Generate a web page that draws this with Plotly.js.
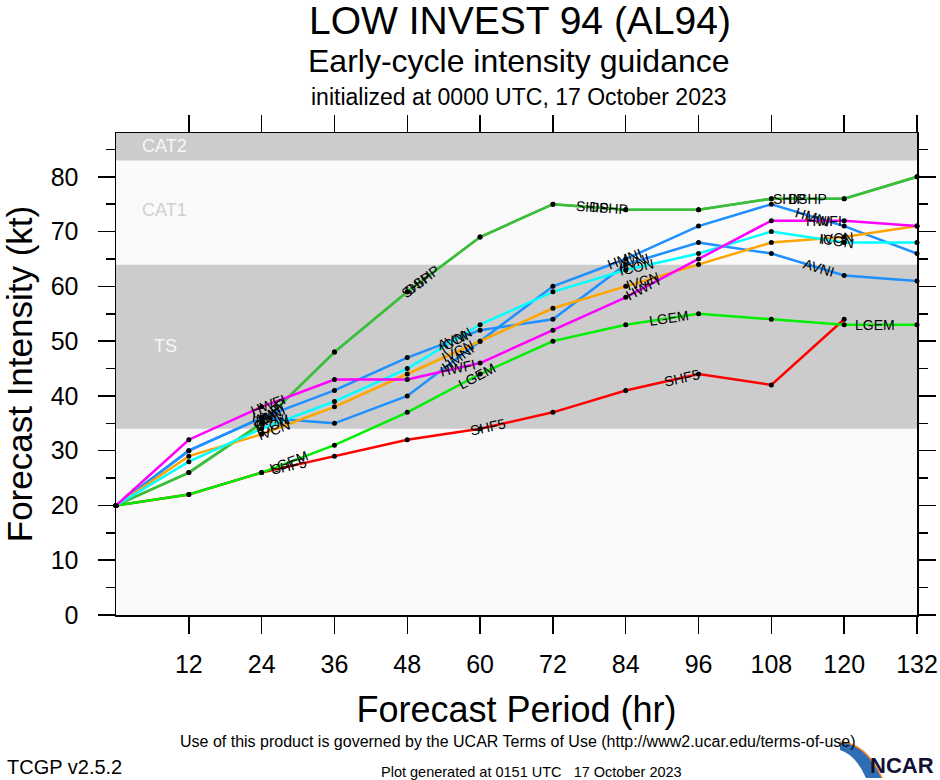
<!DOCTYPE html>
<html>
<head>
<meta charset="utf-8">
<script src="https://cdn.plot.ly/plotly-3.0.1.min.js"></script>
<style>html,body{margin:0;padding:0;background:#fff;}#chart{width:940px;height:780px;}</style>
</head>
<body>
<div id="chart"></div>
<script>
// ---------------- data ----------------
const hours = [0, 12, 24, 36, 48, 60, 72, 84, 96, 108, 120, 132];
const xTickVals = [12, 24, 36, 48, 60, 72, 84, 96, 108, 120, 132];

const DSHP = [20, 26, 35, 48, 59, 69, 75, 74, 74, 76, 76, 80];
const SHIP = [20, 26, 35, 48, 59, 69, 75, 74, 74, 76, 76, 80];
const SHF5 = [20, 22, 26, 29, 32, 34, 37, 41, 44, 42, 54, null];
const LGEM = [20, 22, 26, 31, 37, 44, 50, 53, 55, 54, 53, 53];
const HWFI = [20, 32, 38, 43, 43, 46, 52, 58, 65, 72, 72, 71];
const HMNI = [20, 30, 36, 35, 40, 50, 60, 65, 71, 75, 71, 66];
const AVNI = [20, 30, 36, 41, 47, 52, 54, 64, 68, 66, 62, 61];
const ICON = [20, 28, 34, 39, 45, 53, 59, 63, 66, 70, 68, 68];
const IVCN = [20, 29, 33, 38, 44, 50, 56, 60, 64, 68, 69, 71];

const models = ['DSHP', 'SHIP', 'SHF5', 'LGEM', 'AVNI', 'HMNI', 'IVCN', 'ICON', 'HWFI'];
const modelValues = {DSHP, SHIP, SHF5, LGEM, HWFI, HMNI, AVNI, ICON, IVCN};
const modelColors = {
  DSHP: '#3cbe3c', SHIP: '#3cbe3c', SHF5: '#ff0000', LGEM: '#00ee00',
  HWFI: '#ff00ff', HMNI: '#1e90ff', AVNI: '#1e90ff', ICON: '#00ffff', IVCN: '#ffa500'
};

// intensity category bands (kt)
const TS_BAND = [34, 64];
const CAT1_BAND = [64, 83];
const CAT2_BAND = [83, 96];

// where the line labels sit (forecast hour)
const labelHours = {
  SHIP: [25, 49.5, 78.6, 111],
  DSHP: [25.5, 50.5, 81.2, 114],
  SHF5: [28.5, 61.3, 93.2],
  LGEM: [28.5, 59.5, 91.2, 125],
  HWFI: [25, 56.3, 86.8, 116.7],
  HMNI: [25.3, 56.3, 83.8, 114.8],
  AVNI: [25.3, 55.6, 85.4, 115.9],
  ICON: [25.8, 55.9, 85.8, 118.8],
  IVCN: [26, 56.3, 86.8, 118.8]
};

// ---------------- geometry ----------------
const W = 940, H = 780;
const M = {l: 116, r: 23, t: 133, b: 165};
const plotW = W - M.l - M.r, plotH = H - M.t - M.b;
const X_RANGE = [0, 132], Y_RANGE = [0, 88];
const pxPerH = plotW / (X_RANGE[1] - X_RANGE[0]);
const pxPerKt = plotH / (Y_RANGE[1] - Y_RANGE[0]);
const px = p => (p - M.l) / plotW;          // page px -> paper x
const py = p => (M.t + plotH - p) / plotH;  // page px -> paper y

const FONT = 'Liberation Sans, Arial, Helvetica, sans-serif';
const NARROW = 'Liberation Sans Narrow, Liberation Sans, Arial, sans-serif';

function interp(vals, h) {
  for (let i = 0; i < hours.length - 1; i++) {
    if (h >= hours[i] && h <= hours[i + 1] && vals[i] != null && vals[i + 1] != null) {
      const f = (h - hours[i]) / (hours[i + 1] - hours[i]);
      return {y: vals[i] + f * (vals[i + 1] - vals[i]), slope: (vals[i + 1] - vals[i]) / (hours[i + 1] - hours[i])};
    }
  }
  return null;
}

// ---------------- traces ----------------
const traces = models.map(name => ({
  type: 'scatter',
  mode: 'lines+markers',
  name: name,
  x: hours,
  y: modelValues[name],
  line: {color: modelColors[name], width: 2.5},
  marker: {color: '#000', size: 5},
  cliponaxis: false,
  showlegend: false,
  hoverinfo: 'x+y+name'
}));

// ---------------- annotations ----------------
const annotations = [];
Object.keys(labelHours).forEach(name => {
  labelHours[name].forEach(h => {
    const r = interp(modelValues[name], h);
    if (!r) return;
    const ang = -Math.atan(r.slope * pxPerKt / pxPerH) * 180 / Math.PI;
    annotations.push({
      x: h, y: r.y, xref: 'x', yref: 'y', text: name, showarrow: false,
      textangle: ang, font: {family: FONT, size: 14, color: '#000'},
      xanchor: 'center', yanchor: 'middle'
    });
  });
});

// category band labels
annotations.push({x: px(140), y: py(146), xref: 'paper', yref: 'paper', text: 'CAT2', showarrow: false,
  xanchor: 'left', yanchor: 'middle', font: {family: FONT, size: 18, color: '#f7f7f7'}});
annotations.push({x: px(140), y: py(210), xref: 'paper', yref: 'paper', text: 'CAT1', showarrow: false,
  xanchor: 'left', yanchor: 'middle', font: {family: FONT, size: 18, color: '#d0d0d0'}});
annotations.push({x: px(152), y: py(346), xref: 'paper', yref: 'paper', text: 'TS', showarrow: false,
  xanchor: 'left', yanchor: 'middle', font: {family: FONT, size: 18, color: '#f7f7f7'}});

// titles
annotations.push({x: px(520), y: py(21), xref: 'paper', yref: 'paper', text: 'LOW INVEST 94 (AL94)', showarrow: false,
  xanchor: 'center', yanchor: 'middle', font: {family: FONT, size: 39, color: '#000'}});
annotations.push({x: px(519), y: py(61), xref: 'paper', yref: 'paper', text: 'Early-cycle intensity guidance', showarrow: false,
  xanchor: 'center', yanchor: 'middle', font: {family: FONT, size: 32, color: '#000'}});
annotations.push({x: px(519), y: py(97), xref: 'paper', yref: 'paper', text: 'initialized at 0000 UTC, 17 October 2023', showarrow: false,
  xanchor: 'center', yanchor: 'middle', font: {family: FONT, size: 23, color: '#000'}});

// footer
annotations.push({x: px(518), y: py(741), xref: 'paper', yref: 'paper',
  text: 'Use of this product is governed by the UCAR Terms of Use (http://www2.ucar.edu/terms-of-use)', showarrow: false,
  xanchor: 'center', yanchor: 'middle', font: {family: NARROW, size: 16, color: '#000'}});
annotations.push({x: px(5), y: py(767), xref: 'paper', yref: 'paper', text: 'TCGP v2.5.2', showarrow: false,
  xanchor: 'left', yanchor: 'middle', font: {family: NARROW, size: 20, color: '#000'}});
annotations.push({x: px(531), y: py(772), xref: 'paper', yref: 'paper', text: 'Plot generated at 0151 UTC&nbsp;&nbsp;&nbsp;17 October 2023', showarrow: false,
  xanchor: 'center', yanchor: 'middle', font: {family: NARROW, size: 14.5, color: '#000'}});
annotations.push({x: px(936), y: py(765), xref: 'paper', yref: 'paper', text: '<b>NCAR</b>', showarrow: false,
  xanchor: 'right', yanchor: 'middle', font: {family: NARROW, size: 22, color: '#111133'}});

// ---------------- shapes ----------------
function pathPx(cmds) {
  return cmds.map(c => typeof c === 'string' ? c : (px(c[0]).toFixed(5) + ',' + py(c[1]).toFixed(5))).join(' ');
}
const shapes = [
  {type: 'rect', xref: 'paper', x0: 0, x1: 1, yref: 'y', y0: TS_BAND[0], y1: TS_BAND[1],
   fillcolor: '#cccccc', line: {width: 0}, layer: 'below'},
  {type: 'rect', xref: 'paper', x0: 0, x1: 1, yref: 'y', y0: CAT1_BAND[0], y1: CAT1_BAND[1],
   fillcolor: '#fafafa', line: {width: 0}, layer: 'below'},
  {type: 'rect', xref: 'paper', x0: 0, x1: 1, yref: 'y', y0: CAT2_BAND[0], y1: CAT2_BAND[1],
   fillcolor: '#cccccc', line: {width: 0}, layer: 'below'},
  // NCAR swoosh
  {type: 'path', xref: 'paper', yref: 'paper', layer: 'above',
   path: pathPx(['M', [840, 742], 'Q', [866, 743], [882, 778], 'L', [866, 778], 'Q', [856, 755], [840, 750], 'Z']),
   fillcolor: '#2f6db5', line: {width: 0}},
  {type: 'path', xref: 'paper', yref: 'paper', layer: 'above',
   path: pathPx(['M', [840, 742], 'Q', [866, 743], [882, 778]]),
   line: {color: '#f08a24', width: 1.5}}
];

const axisCommon = {
  showline: true, linecolor: '#000', linewidth: 1.5, mirror: 'allticks',
  ticks: 'outside', ticklen: 17, tickwidth: 1.5, tickcolor: '#000',
  showgrid: false, zeroline: false, fixedrange: true,
  tickfont: {family: FONT, size: 25, color: '#000'}
};

const layout = {
  width: W, height: H, autosize: false,
  margin: M,
  paper_bgcolor: '#ffffff',
  plot_bgcolor: '#fafafa',
  showlegend: false,
  xaxis: Object.assign({}, axisCommon, {
    range: X_RANGE, tickmode: 'array', tickvals: xTickVals,
    ticklabelstandoff: 9,
    title: {text: 'Forecast Period (hr)', font: {family: FONT, size: 36, color: '#000'}, standoff: 20}
  }),
  yaxis: Object.assign({}, axisCommon, {
    range: Y_RANGE, tickmode: 'linear', tick0: 0, dtick: 10,
    ticklabelstandoff: 14,
    minor: {dtick: 5, tick0: 0, ticks: 'outside', ticklen: 9, tickwidth: 1.5, tickcolor: '#000'},
    title: {text: 'Forecast Intensity (kt)', font: {family: FONT, size: 35, color: '#000'}, standoff: 8}
  }),
  shapes: shapes,
  annotations: annotations
};

Plotly.newPlot('chart', traces, layout, {displayModeBar: false, staticPlot: true});
</script>
</body>
</html>
